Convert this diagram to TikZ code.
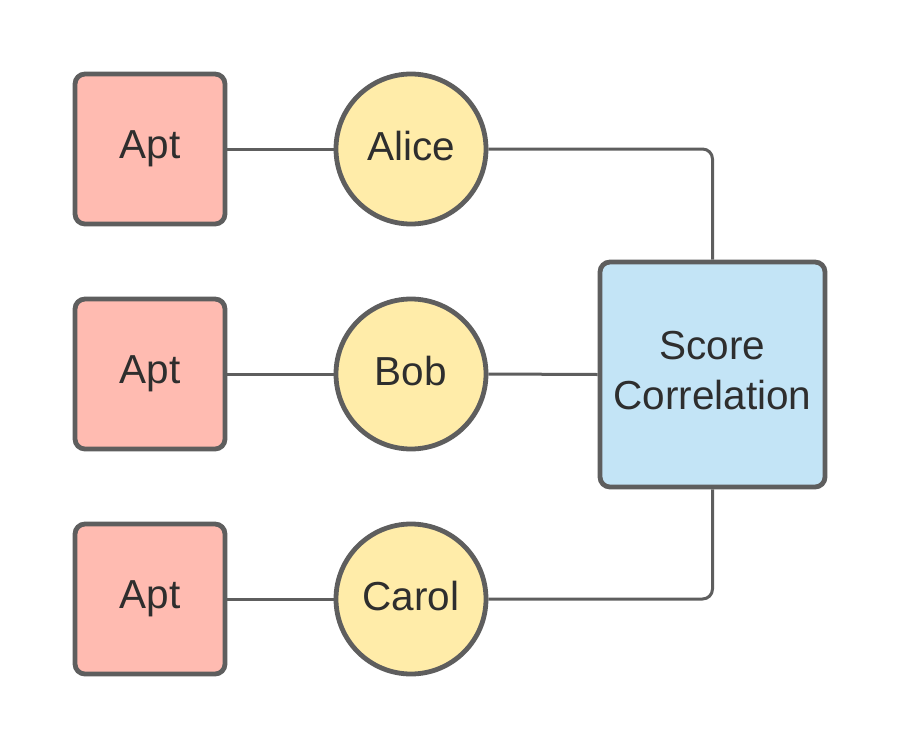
\documentclass[tikz,border=0pt]{standalone}
\usepackage{fontspec}
\setmainfont{Liberation Sans}
\definecolor{edge}{HTML}{5E5E5E}
\definecolor{txt}{HTML}{2E2E2E}
\definecolor{pinkf}{HTML}{FFBBB1}
\definecolor{yelf}{HTML}{FFECA9}
\definecolor{bluef}{HTML}{C3E4F6}
\newcommand{\up}[1]{\raisebox{6.5pt}{#1}}
\tikzset{
  aptbox/.style={draw=edge, line width=4.8pt, fill=pinkf, rounded corners=10pt,
    minimum width=150pt, minimum height=150pt, inner sep=0pt, text=txt,
    font=\fontsize{40.5}{50}\selectfont},
  person/.style={draw=edge, line width=4.8pt, fill=yelf, circle,
    minimum size=150pt, inner sep=0pt, text=txt, font=\fontsize{40.5}{50}\selectfont},
  scorebox/.style={draw=edge, line width=4.8pt, fill=bluef, rounded corners=10pt,
    minimum width=225pt, minimum height=225pt, inner sep=0pt, text=txt,
    font=\fontsize{40.5}{50}\selectfont},
  conn/.style={draw=edge, line width=3pt, rounded corners=10pt}
}
\begin{document}
\begin{tikzpicture}[x=1pt,y=-1pt]
\useasboundingbox (0,0) rectangle (900,750);
\node[aptbox] (a1) at (150,149) {\up{Apt}};
\node[aptbox] (a2) at (150,374) {\up{Apt}};
\node[aptbox] (a3) at (150,599) {\up{Apt}};
\node[person] (alice) at (411,149) {\up{Alice}};
\node[person] (bob) at (411,374) {\up{Bob}};
\node[person] (carol) at (411,599) {\up{Carol}};
\node[scorebox] (sc) at (712.5,374.5) {\raisebox{6.5pt}{\begin{tabular}{@{}c@{}}Score\\[-0.5pt]Correlation\end{tabular}}};
\draw[conn] (a1.east) -- (alice.west);
\draw[conn] (a2.east) -- (bob.west);
\draw[conn] (a3.east) -- (carol.west);
\draw[conn] (alice.east) -| (sc.north);
\draw[conn] (bob.east) -- (sc.west);
\draw[conn] (carol.east) -| (sc.south);
\end{tikzpicture}
\end{document}
